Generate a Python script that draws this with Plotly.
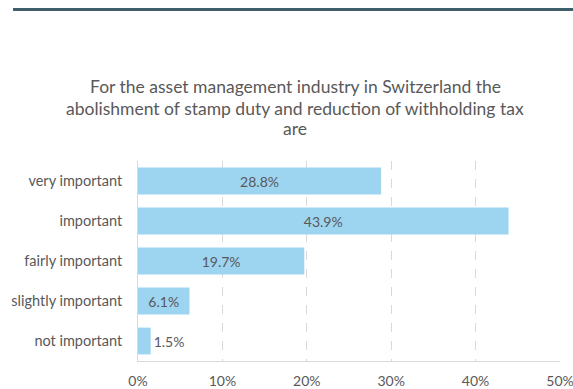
import plotly.graph_objects as go

categories = ["very important", "important", "fairly important", "slightly important", "not important"]
values = [28.8, 43.9, 19.7, 6.1, 1.5]
tick_vals = [0, 10, 20, 30, 40, 50]
tick_text = ["0%", "10%", "20%", "30%", "40%", "50%"]
title_lines = [
    "For the asset management industry in Switzerland the",
    "abolishment of stamp duty and reduction of withholding tax",
    "are",
]

W, H = 573, 389
L, R, T, B = 138, 13, 161, 28
PW, PH = W - L - R, H - T - B
FONT = "Lato"
GREY = "#595959"

labels = [f"{v:.1f}%" for v in values]
positions = ["inside" if v > 3 else "outside" for v in values]

fig = go.Figure(go.Bar(
    y=categories,
    x=values,
    orientation="h",
    marker=dict(color="#9dd4f0", line=dict(width=0)),
    text=labels,
    textposition=positions,
    insidetextanchor="middle",
    textfont=dict(family=FONT, size=14, color=GREY),
    outsidetextfont=dict(family=FONT, size=14, color=GREY),
    constraintext="none",
    cliponaxis=False,
    width=0.67,
))

fig.update_layout(
    width=W, height=H,
    margin=dict(l=L, r=R, t=T, b=B, pad=0, autoexpand=False),
    paper_bgcolor="white",
    plot_bgcolor="white",
    showlegend=False,
    font=dict(family=FONT, size=14, color=GREY),
    xaxis=dict(
        range=[0, 50],
        tickvals=tick_vals,
        ticktext=tick_text,
        showgrid=True,
        gridcolor="#d9d9d9",
        griddash="dash",
        gridwidth=1,
        zeroline=False,
        showline=True,
        linecolor="#d9d9d9",
        linewidth=1,
        ticks="",
        automargin=False,
        ticklabeloverflow="allow",
        ticklabelstandoff=7,
        tickfont=dict(family=FONT, size=14, color=GREY),
    ),
    yaxis=dict(
        categoryorder="array",
        categoryarray=categories[::-1],
        showgrid=False,
        zeroline=False,
        showline=True,
        linecolor="#d9d9d9",
        linewidth=1,
        ticks="",
        automargin=False,
        ticklabeloverflow="allow",
        ticklabelstandoff=12,
        tickfont=dict(family=FONT, size=14.5, color=GREY),
    ),
    bargap=0.33,
)

# three-line chart title, one annotation per line
for line, yc in zip(title_lines, [87, 108, 128]):
    fig.add_annotation(
        text=line, showarrow=False,
        xref="paper", yref="paper",
        x=(295 - L) / PW, y=(H - B - yc) / PH,
        xanchor="center", yanchor="middle",
        font=dict(family=FONT, size=17.5, color=GREY),
    )

# rule across the top of the page
fig.add_shape(
    type="line", xref="paper", yref="paper",
    x0=(13 - L) / PW, x1=(W - L) / PW,
    y0=(H - B - 9.5) / PH, y1=(H - B - 9.5) / PH,
    line=dict(color="#3f5e6c", width=3),
)

fig.write_html("out.html")
